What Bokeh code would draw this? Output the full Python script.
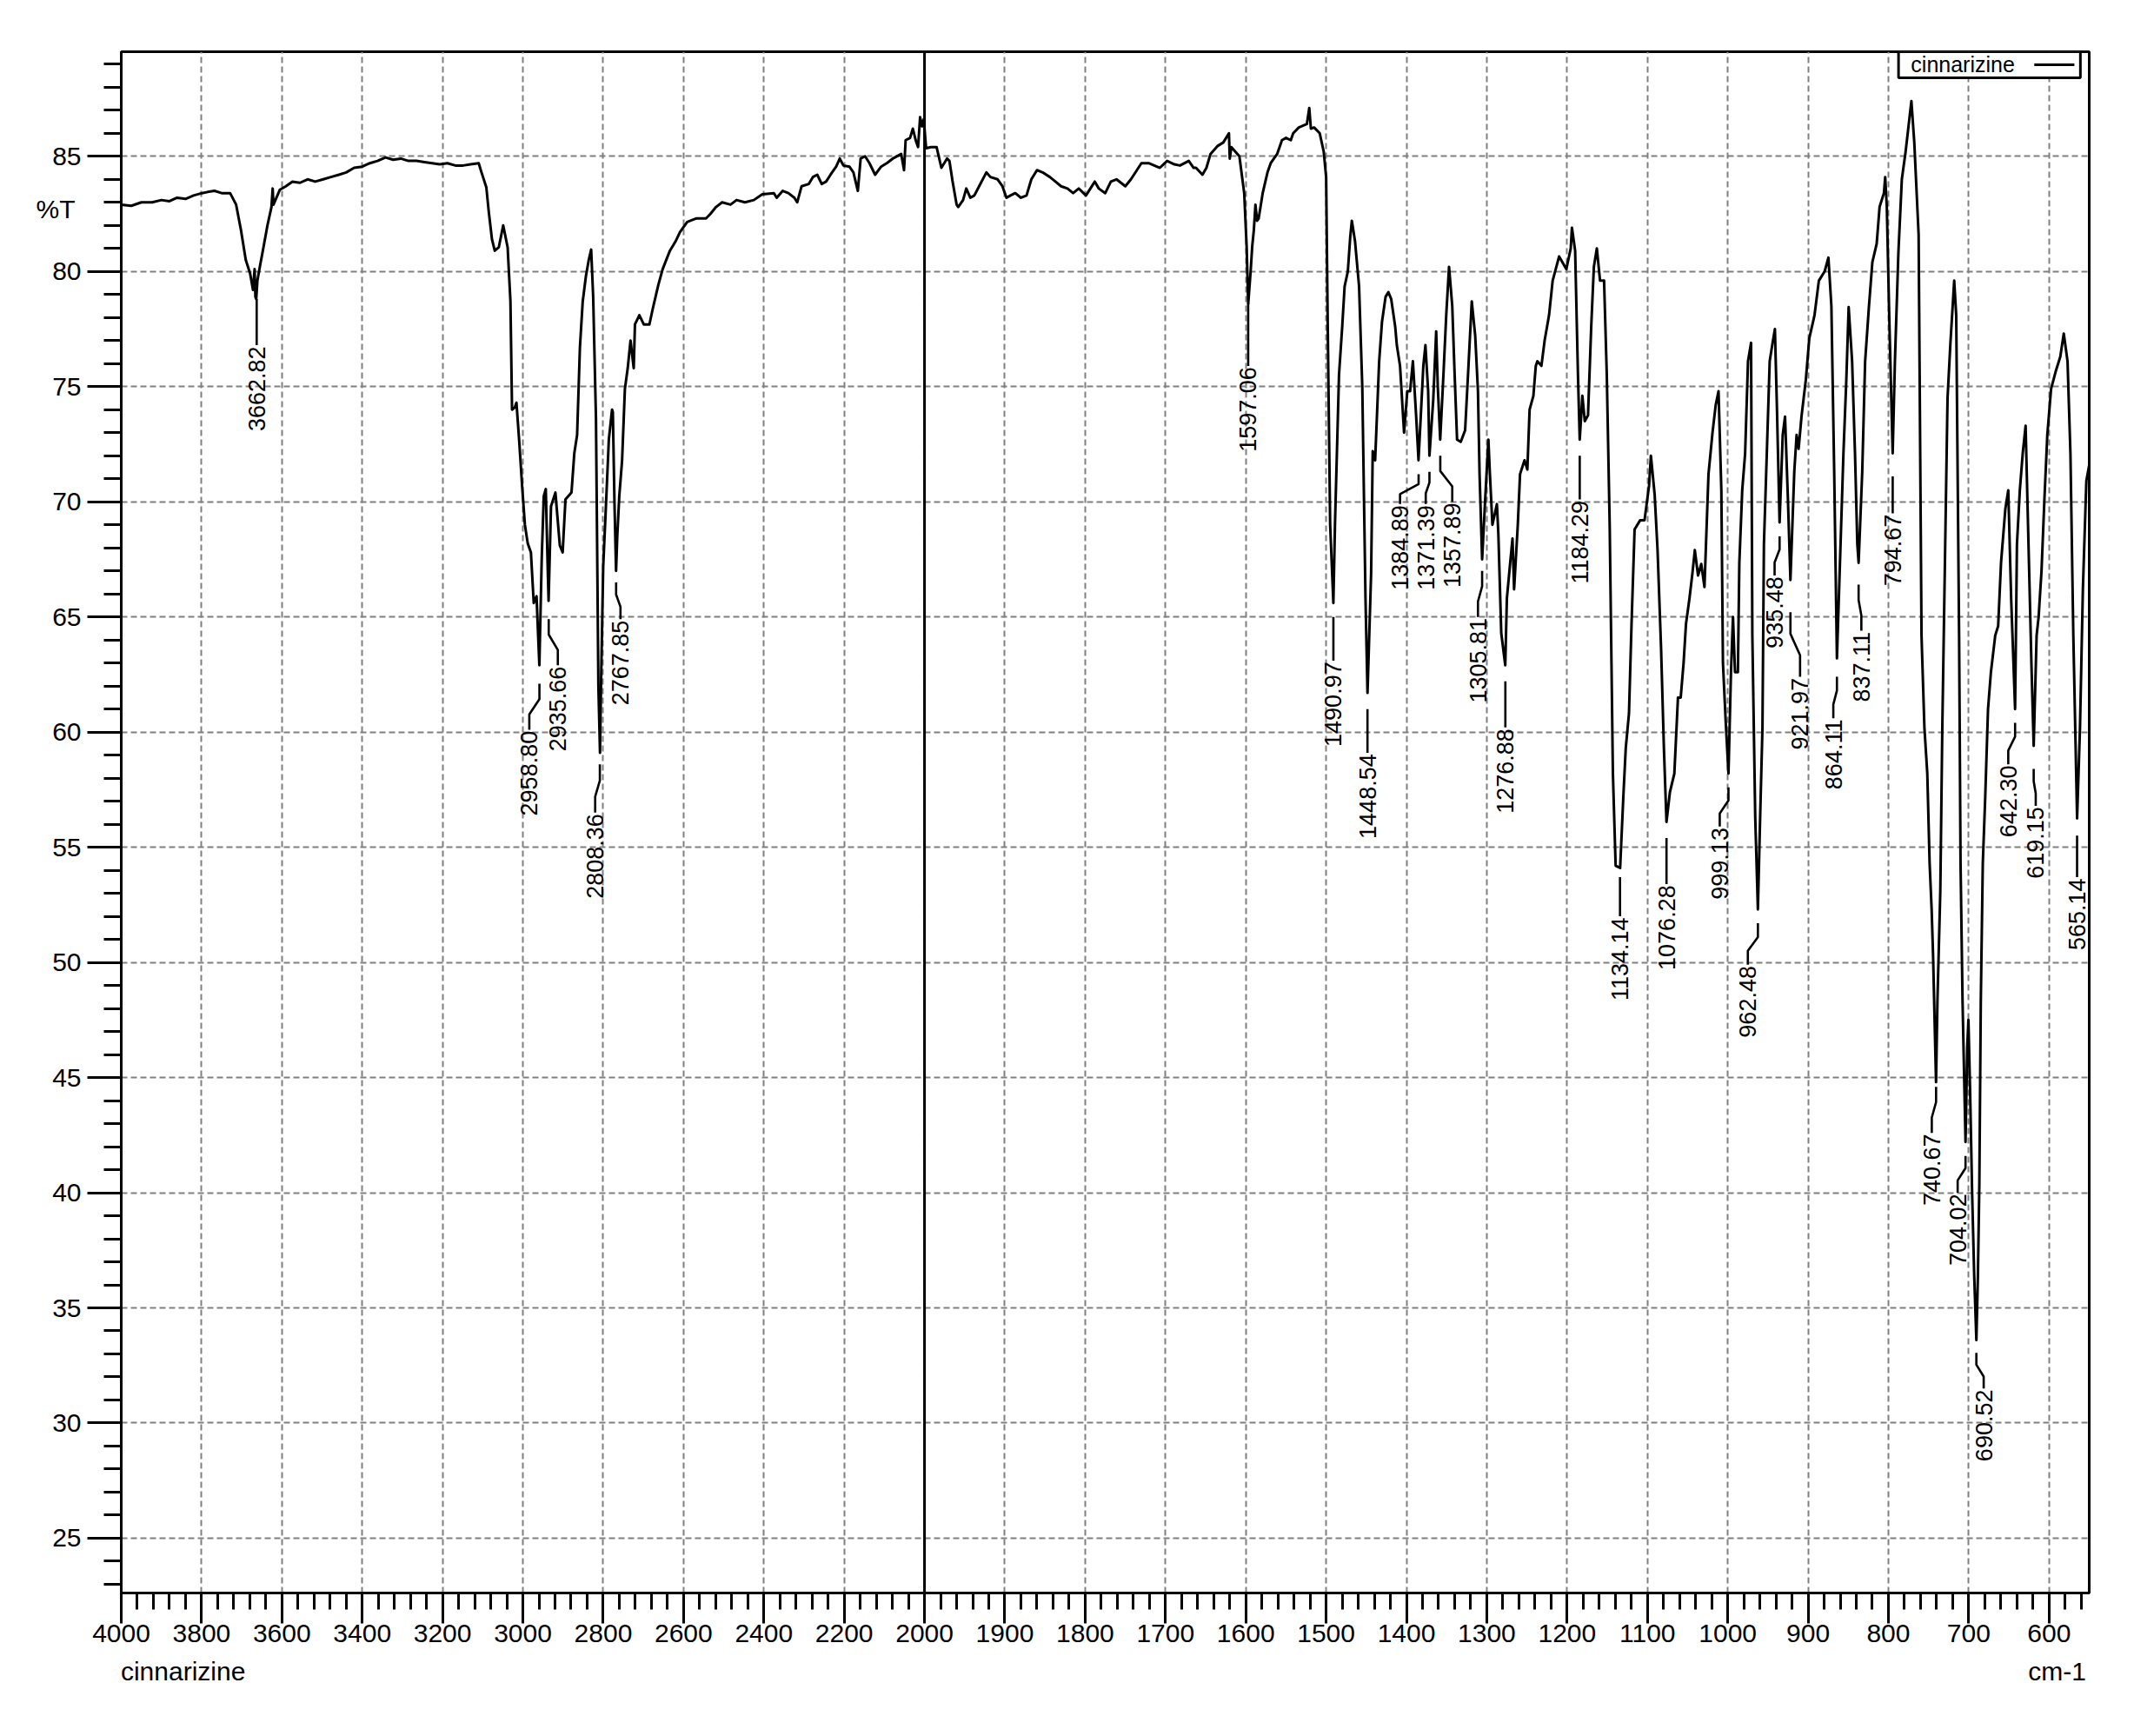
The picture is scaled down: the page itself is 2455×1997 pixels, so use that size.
import numpy as np
from bokeh.plotting import figure
from bokeh.models import Range1d, FixedTicker, Span, Label, BoxAnnotation, LinearAxis
from bokeh.core.properties import value
from bokeh.embed import file_html
from bokeh.resources import INLINE

# ---------------- spectrum data (wavenumber cm-1, %T) ----------------
wn_a = [4000, 3975, 3950, 3923, 3900, 3880, 3861, 3840, 3820, 3799, 3785, 3768, 3750, 3729, 3714,
        3702, 3690, 3679, 3672, 3668, 3666, 3664, 3661, 3655, 3648, 3636, 3626, 3623, 3621, 3605,
        3590, 3574, 3555, 3536, 3517, 3497, 3478, 3458, 3440, 3420, 3400, 3381, 3362, 3342, 3323,
        3304, 3285, 3265, 3245, 3226, 3207, 3188, 3168, 3149, 3130, 3110, 3103, 3091]
t_a = [82.9, 82.85, 83.0, 83.0, 83.1, 83.05, 83.2, 83.15, 83.3, 83.4, 83.45, 83.5, 83.4, 83.4, 82.9,
       81.8, 80.5, 79.9, 79.2, 80.1, 78.9, 78.8, 79.6, 80.2, 80.85, 82.0, 82.8, 83.6, 82.9, 83.55,
       83.7, 83.9, 83.85, 84.0, 83.9, 84.0, 84.1, 84.2, 84.3, 84.5, 84.55, 84.7, 84.8, 84.95, 84.85,
       84.9, 84.8, 84.8, 84.75, 84.7, 84.65, 84.7, 84.6, 84.6, 84.65, 84.7, 84.3, 83.65]

wn_b = [3085, 3077, 3070, 3060, 3049, 3038, 3031, 3027, 3020, 3016, 3009, 3002, 2995, 2988, 2980,
        2973, 2966, 2959, 2953, 2948, 2943, 2938, 2936, 2930, 2919, 2908, 2901, 2894, 2879, 2872,
        2865, 2858, 2851, 2843, 2836, 2830, 2825, 2818, 2812, 2808, 2805, 2800, 2793, 2786, 2778,
        2776, 2772, 2768, 2765, 2760, 2753, 2746, 2739, 2732, 2724, 2721, 2710, 2699]
t_b = [82.6, 81.4, 80.9, 81.05, 82.0, 81.05, 78.7, 74.0, 74.1, 74.3, 72.6, 70.7, 69.0, 68.2, 67.8,
       65.6, 65.9, 62.9, 67.6, 70.25, 70.55, 67.0, 65.7, 69.8, 70.4, 68.1, 67.8, 70.1, 70.4, 72.1,
       72.9, 76.7, 78.7, 79.8, 80.5, 80.95, 78.9, 73.6, 62.0, 59.1, 62.5, 67.2, 69.9, 72.7, 74.0,
       73.9, 70.0, 67.0, 68.5, 70.25, 71.8, 74.9, 75.8, 77.0, 75.8, 77.7, 78.1, 77.7]

wn_c = [2685, 2677, 2663, 2652, 2634, 2620, 2609, 2591, 2569, 2544, 2533, 2519, 2504, 2483, 2468,
        2447, 2425, 2404, 2375, 2368, 2353, 2339, 2324, 2317, 2306, 2288, 2278, 2267, 2256, 2245,
        2234, 2220, 2211, 2202, 2187, 2177, 2166, 2159, 2148, 2137, 2123, 2108, 2094, 2079, 2058,
        2051, 2047, 2036, 2029, 2022, 2016, 2011, 2006, 2002]
t_c = [77.7, 78.35, 79.4, 80.1, 80.9, 81.3, 81.7, 82.15, 82.3, 82.3, 82.5, 82.8, 83.0, 82.9, 83.1,
       83.0, 83.1, 83.35, 83.4, 83.2, 83.5, 83.4, 83.2, 83.0, 83.7, 83.8, 84.1, 84.2, 83.8, 83.9,
       84.2, 84.55, 84.9, 84.6, 84.55, 84.3, 83.5, 84.9, 85.0, 84.7, 84.2, 84.55, 84.7, 84.9, 85.1,
       84.4, 85.7, 85.8, 86.2, 85.7, 85.4, 86.7, 86.3, 86.6]

wn_d = [1998, 1992, 1985, 1979, 1972, 1969, 1965, 1960, 1958, 1952, 1948, 1943, 1938, 1932, 1923,
        1918, 1909, 1903, 1898, 1893, 1887, 1880, 1873, 1867, 1860, 1853, 1844, 1837, 1830, 1822,
        1815, 1808, 1799, 1788, 1783, 1775, 1768, 1761, 1750, 1743, 1730, 1721, 1707, 1698, 1689,
        1682, 1671, 1665, 1662, 1654, 1649, 1644, 1635, 1628, 1621, 1620, 1618, 1613, 1608, 1602,
        1599, 1597, 1594, 1592, 1590, 1588, 1586, 1584, 1579, 1573, 1569, 1561, 1555, 1550, 1544,
        1541, 1534, 1524, 1521, 1519, 1515, 1508, 1503]
t_d = [85.35, 85.4, 85.4, 84.5, 84.9, 84.8, 83.9, 82.9, 82.8, 83.1, 83.6, 83.2, 83.3, 83.7, 84.3,
       84.1, 84.0, 83.7, 83.2, 83.3, 83.4, 83.2, 83.3, 84.0, 84.4, 84.3, 84.1, 83.9, 83.7, 83.6,
       83.4, 83.6, 83.3, 83.9, 83.6, 83.4, 83.9, 84.0, 83.7, 84.0, 84.7, 84.7, 84.5, 84.8, 84.65,
       84.6, 84.8, 84.5, 84.5, 84.2, 84.5, 85.1, 85.45, 85.6, 86.0, 84.9, 85.4, 85.2, 85.0, 83.4,
       81.1, 78.6, 80.0, 81.1, 81.8, 82.9, 82.2, 82.3, 83.4, 84.3, 84.7, 85.1, 85.7, 85.8, 85.7,
       86.0, 86.25, 86.4, 87.1, 86.2, 86.25, 86.0, 85.2]

wn_e = [1500, 1498, 1495, 1491, 1489, 1484, 1480, 1477, 1473, 1470, 1468, 1464, 1459, 1455, 1451,
        1448.5, 1444, 1442, 1439, 1434, 1430.5, 1426, 1422.5, 1419, 1414, 1412, 1408, 1403, 1399, 1395.5,
        1392, 1388, 1385, 1379, 1376.4, 1373, 1371.4, 1366.7, 1363, 1361, 1358, 1354, 1350.5, 1347, 1343,
        1340, 1337, 1332.4, 1327, 1323.4, 1318.7, 1314.4, 1311, 1309, 1305.8, 1302, 1298, 1296.4, 1293, 1287.4,
        1285.6, 1282, 1277, 1275, 1271, 1268, 1266, 1261.4, 1258.6, 1253, 1249.5, 1246.7, 1242, 1239, 1237,
        1232, 1228, 1222.5, 1218, 1210, 1201, 1195.5, 1194, 1190, 1186.5, 1184.3, 1181, 1178, 1174, 1170,
        1166.7, 1163, 1159, 1154, 1150.6, 1147, 1143, 1139.6, 1134, 1130, 1127, 1123, 1119.8, 1116, 1109,
        1103.6, 1098, 1095.7, 1091, 1087.4, 1083, 1079.5, 1076.3, 1072, 1066.5, 1062, 1058.6, 1055, 1052, 1047.7,
        1044, 1041, 1037, 1033, 1029, 1024, 1019, 1015, 1011.5, 1008, 1006, 1002.5, 999.1, 996, 993.5,
        991, 987.4]
t_e = [84.1, 77.6, 69.0, 65.6, 69.0, 75.5, 77.6, 79.35, 80.0, 81.5, 82.2, 81.3, 79.35, 75.0, 65.8,
       61.7, 66.9, 72.2, 71.8, 76.1, 77.8, 78.9, 79.1, 78.8, 77.6, 76.8, 75.9, 73.0, 74.8, 74.8,
       76.1, 73.75, 71.8, 75.9, 76.8, 74.8, 72.0, 74.4, 77.4, 75.0, 72.7, 75.5, 78.1, 80.2, 78.5,
       75.5, 72.7, 72.6, 73.1, 75.5, 78.7, 77.2, 74.8, 71.2, 67.5, 70.1, 72.7, 71.4, 69.0, 69.9,
       68.6, 64.3, 62.9, 65.8, 67.3, 68.4, 66.2, 69.0, 71.2, 71.8, 71.4, 74.0, 74.6, 75.9, 76.1,
       75.9, 77.0, 78.1, 79.6, 80.65, 80.1, 81.0, 81.9, 80.9, 75.5, 72.7, 74.6, 73.5, 73.75, 77.6,
       80.2, 81.0, 79.6, 79.6, 75.5, 69.0, 58.2, 54.2, 54.1, 57.2, 59.3, 60.8, 64.7, 68.8, 69.2,
       69.2, 70.7, 72.0, 70.3, 67.9, 63.6, 59.3, 56.1, 57.4, 58.2, 61.5, 61.5, 63.0, 64.7, 65.8,
       66.9, 67.9, 66.8, 67.3, 66.3, 71.2, 73.0, 74.2, 74.8, 70.5, 63.0, 60.4, 58.2, 62.6, 65.0,
       62.6, 62.6]

wn_f = [985.6, 982, 978.4, 974.8, 971, 969.4, 965.8, 962.5, 959.7, 956.8, 955, 951.4, 947.8, 944.2, 941.3,
        938.8, 935.5, 931.6, 928.7, 925.1, 922, 917.2, 914.3, 911.8, 908.2, 902.8, 898.5, 892, 886.6, 879.4,
        874.7, 871, 867.5, 864.1, 859.6, 856, 852.4, 849.5, 845.2, 841.6, 838.7, 837.1, 832.6, 829, 824.3,
        820, 814.6, 811, 805.6, 804, 802, 799, 794.7, 791.9, 787.6, 783.3, 778.6, 774, 771.4, 767.8,
        762.4, 758.8, 755.2, 751.6, 748.7, 746.2, 744.4, 740.7, 739, 735.4, 732.9, 729.3, 726.4, 722.8, 718.1,
        715.6, 712, 710.2, 707.7, 704, 701.9, 700.4, 698.3, 695.8, 693.2, 690.5, 688.6, 686.8, 685, 682.5,
        679.6, 676, 672.4, 667, 663.4, 659.8, 654.4, 650.8, 647.2, 642.3, 640, 636.4, 632.8, 629.2, 625.6,
        622, 619.15, 615.5, 613, 609.4, 605.8, 602.2, 597.5, 591.4, 586, 581.7, 577, 573.4, 569.8, 565.1,
        561.5, 557.9, 553.6, 550]
t_f = [67.35, 70.5, 72.1, 76.1, 76.9, 64.2, 56.3, 52.3, 56.3, 60.2, 68.15, 72.1, 76.1, 76.9, 77.5,
       74.1, 69.1, 72.9, 73.7, 70.1, 66.6, 71.3, 72.9, 72.3, 73.7, 75.3, 77.1, 78.1, 79.6, 80.0,
       80.6, 78.5, 71.3, 63.2, 68.15, 72.1, 75.3, 78.45, 76.1, 72.1, 68.15, 67.35, 71.3, 76.1, 78.45,
       80.4, 81.2, 82.8, 83.4, 84.1, 82.8, 78.1, 72.1, 76.1, 80.8, 84.0, 85.2, 86.6, 87.4, 85.6,
       81.6, 64.2, 60.2, 58.2, 54.3, 52.3, 50.3, 44.8, 48.3, 53.1, 60.2, 68.15, 74.5, 76.9, 79.6,
       78.1, 64.2, 54.3, 48.3, 42.2, 46.3, 47.5, 44.4, 40.0, 36.4, 33.6, 36.4, 40.4, 48.3, 54.3,
       57.05, 61.0, 62.6, 64.2, 64.6, 67.35, 69.7, 70.5, 65.8, 61.0, 68.15, 70.5, 72.1, 73.3, 68.15,
       63.0, 59.4, 64.2, 65.0, 67.0, 70.1, 72.9, 74.9, 75.7, 76.3, 77.3, 76.1, 72.1, 64.2, 56.25,
       60.2, 66.2, 70.9, 71.6]

# ---------------- peak picks ----------------
peak_wavenumber = [3662.82, 2958.80, 2935.66, 2808.36, 2767.85, 1597.06, 1490.97, 1448.54, 1384.89,
                   1371.39, 1357.89, 1305.81, 1276.88, 1184.29, 1134.14, 1076.28, 999.13, 962.48,
                   935.48, 921.97, 864.11, 837.11, 794.67, 740.67, 704.02, 690.52, 642.30, 619.15, 565.14]
# %T where each leader line starts (just under the band minimum) and where the label text starts
leader_start = [78.8, 62.1, 64.9, 58.6, 66.5, 78.6, 65.0, 61.0, 71.2, 71.3, 72.0, 67.0, 62.2, 72.0,
                53.7, 55.4, 57.6, 51.7, 68.5, 65.2, 62.4, 66.4, 71.1, 44.6, 41.6, 33.05, 60.4, 58.4, 55.5]
label_top = [76.8, 60.1, 62.9, 56.5, 64.9, 75.9, 63.1, 59.1, 69.9, 69.9, 70.0, 65.0, 60.2, 70.1,
             52.0, 53.4, 55.9, 49.9, 66.8, 62.4, 60.6, 64.4, 69.5, 42.6, 40.0, 31.5, 58.6, 56.8, 53.7]
label_wavenumber = [3662.82, 2984, 2913, 2820, 2757, 1597.06, 1490.97, 1448.54, 1408, 1376, 1343, 1311,
                    1276.88, 1184.29, 1134.14, 1076.28, 1010, 975, 941.7, 910, 868.6, 833.7, 794.67,
                    746, 713.8, 681.4, 650.8, 616.6, 565.14]

x_tick_labels = [4000, 3800, 3600, 3400, 3200, 3000, 2800, 2600, 2400, 2200, 2000,
                 1900, 1800, 1700, 1600, 1500, 1400, 1300, 1200, 1100, 1000, 900, 800, 700, 600]
y_tick_labels = [25, 30, 35, 40, 45, 50, 55, 60, 65, 70, 75, 80, 85]

wavenumber = wn_a + wn_b + wn_c + wn_d + wn_e + wn_f
transmittance = t_a + t_b + t_c + t_d + t_e + t_f
assert len(wavenumber) == len(transmittance)


def to_u(w):
    """Split x scale: 4000-2000 cm-1 is drawn at half the scale of 2000-550 cm-1."""
    w = np.asarray(w, dtype=float)
    return np.where(w >= 2000, (4000.0 - w) / 2.0, 1000.0 + (2000.0 - w))


FONT = "Liberation Sans"

p = figure(frame_width=2264, frame_height=1773,
           x_range=Range1d(0, 2450), y_range=Range1d(22.62, 89.54),
           output_backend="svg", toolbar_location=None,
           min_border_left=139, min_border_top=59, min_border_right=40, min_border_bottom=140)
p.background_fill_color = "white"
p.border_fill_color = "white"
p.outline_line_color = "black"
p.outline_line_width = 3

major_u = [int(round(float(v))) for v in to_u(x_tick_labels)]
minor_w = list(range(4000, 2000, -40)) + list(range(2000, 549, -20))
minor_u = [float(v) for v in to_u(minor_w)]

xa = p.xaxis[0]
xa.ticker = FixedTicker(ticks=major_u, minor_ticks=minor_u)
xa.major_label_overrides = {u: str(w) for u, w in zip(major_u, x_tick_labels)}
xa.major_tick_out = 35
xa.minor_tick_out = 19
xa.major_tick_in = 0
xa.minor_tick_in = 0
xa.major_tick_line_width = 3
xa.minor_tick_line_width = 3
xa.axis_line_width = 3
xa.major_label_text_font = FONT
xa.major_label_text_font_size = "30px"
xa.major_label_text_color = "black"
xa.major_label_standoff = 1

ya = p.yaxis[0]
ya.ticker = FixedTicker(ticks=y_tick_labels, minor_ticks=list(range(22, 90)))
ya.major_tick_out = 39
ya.minor_tick_out = 20
ya.major_tick_in = 0
ya.minor_tick_in = 0
ya.major_tick_line_width = 3
ya.minor_tick_line_width = 3
ya.axis_line_width = 3
ya.major_label_text_font = FONT
ya.major_label_text_font_size = "30px"
ya.major_label_text_color = "black"
ya.major_label_standoff = 7

# caption axes (text only): sample name / unit below, %T at the upper left
cap_x = LinearAxis(ticker=FixedTicker(ticks=[77, 2410]),
                   major_label_overrides={77: "cinnarizine", 2410: "cm-1"},
                   axis_line_color=None, major_tick_line_color=None, minor_tick_line_color=None,
                   major_tick_out=0, minor_tick_out=0, major_tick_in=0, minor_tick_in=0,
                   major_label_standoff=14, major_label_text_font=FONT,
                   major_label_text_font_size="30px", major_label_text_color="black")
p.add_layout(cap_x, "below")
cap_y = LinearAxis(ticker=FixedTicker(ticks=[82.7]), major_label_overrides={82.7: "%T"},
                   axis_line_color=None, major_tick_line_color=None, minor_tick_line_color=None,
                   major_tick_out=0, minor_tick_out=0, major_tick_in=0, minor_tick_in=0,
                   major_label_standoff=-29, major_label_text_font=FONT,
                   major_label_text_font_size="30px", major_label_text_color="black")
p.add_layout(cap_y, "left")

p.xgrid.ticker = FixedTicker(ticks=major_u)
p.ygrid.ticker = FixedTicker(ticks=y_tick_labels)
for g in (p.xgrid[0], p.ygrid[0]):
    g.grid_line_color = "#808080"
    g.grid_line_width = 2
    g.grid_line_dash = "7 4"

# black divider at the scale break (2000 cm-1)
p.add_layout(Span(location=float(to_u([2000])[0]), dimension="height",
                  line_color="black", line_width=3))

# spectrum
p.line(to_u(wavenumber), transmittance, line_color="black", line_width=3, line_join="round")

# peak leaders
xs, ys = [], []
for pw, s, top, lw in zip(peak_wavenumber, leader_start, label_top, label_wavenumber):
    k1 = s - (s - top) / 3.0
    k2 = s - 2.0 * (s - top) / 3.0
    xs.append(list(to_u([pw, pw, lw, lw])))
    ys.append([s, k1, k2, top])
p.multi_line(xs, ys, line_color="black", line_width=2.6)

p.text(x=to_u(label_wavenumber), y=[t - 0.05 for t in label_top],
       text=["%.2f" % w for w in peak_wavenumber], angle=np.pi / 2,
       text_align="right", text_baseline="middle",
       text_font=value(FONT), text_font_size="27px", text_color="black")

# legend box (label on the left, line sample on the right)
p.add_layout(BoxAnnotation(left=2212.6, right=2439, top=89.54, bottom=88.41,
                           fill_color="white", fill_alpha=1.0, line_color="black", line_width=3,
                           line_alpha=1.0))
p.add_layout(Label(x=2228, y=88.975, text="cinnarizine", text_font=FONT,
                   text_font_size="25px", text_baseline="middle", text_align="left", text_color="black"))
p.add_layout(BoxAnnotation(left=2381.6, right=2431.5, top=89.03, bottom=88.92,
                           fill_color="black", fill_alpha=1.0, line_alpha=0.0))

open("out.html", "w").write(file_html(p, INLINE))
